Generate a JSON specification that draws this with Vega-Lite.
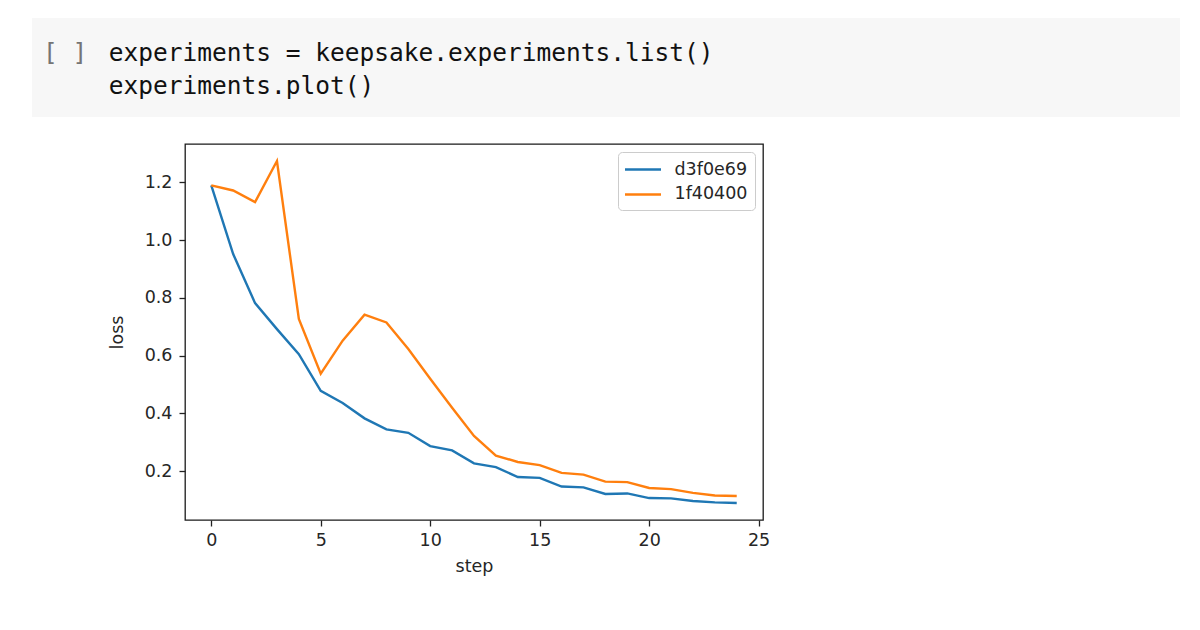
{
  "$schema": "https://vega.github.io/schema/vega-lite/v6.json",
  "background": "white",
  "padding": {"left": 32, "top": 18, "right": 20, "bottom": 10},
  "spacing": 26,
  "resolve": {"scale": {"color": "independent"}, "legend": {"color": "independent"}},
  "config": {
    "font": "DejaVu Sans",
    "axis": {
      "grid": false,
      "domain": false,
      "tickSize": 6,
      "tickWidth": 1.3,
      "tickColor": "#222222",
      "labelFont": "DejaVu Sans",
      "labelFontSize": 17.5,
      "labelColor": "#262626",
      "labelFlush": false,
      "titleFont": "DejaVu Sans",
      "titleFontSize": 17.5,
      "titleFontWeight": "normal",
      "titleColor": "#262626"
    }
  },
  "vconcat": [
    {
      "width": 1148,
      "height": 99,
      "view": {"fill": "#f7f7f7", "stroke": null},
      "data": {
        "values": [
          {"line": 1, "part": "prompt", "text": "[ ]"},
          {"line": 1, "part": "code", "text": "experiments = keepsake.experiments.list()"},
          {"line": 2, "part": "code", "text": "experiments.plot()"}
        ]
      },
      "mark": {"type": "text", "font": "DejaVu Sans Mono", "fontSize": 24.5, "align": "left", "baseline": "alphabetic"},
      "encoding": {
        "x": {"field": "part", "type": "nominal", "axis": null, "scale": {"type": "point", "domain": ["prompt", "code"], "range": [11, 76.8], "padding": 0}},
        "y": {"field": "line", "type": "ordinal", "axis": null, "scale": {"type": "point", "domain": [1, 2], "range": [42.5, 75.5], "padding": 0}},
        "text": {"field": "text"},
        "color": {"field": "part", "type": "nominal", "legend": null, "scale": {"domain": ["prompt", "code"], "range": ["#757575", "#111111"]}}
      }
    },
    {
      "spacing": 20,
      "resolve": {"scale": {"color": "independent"}, "legend": {"color": "independent"}},
      "hconcat": [
        {
          "width": 55,
          "height": 20,
          "view": {"stroke": null},
          "data": {"values": []},
          "mark": "point",
          "encoding": {}
        },
        {
          "width": 578,
          "height": 376,
          "view": {"stroke": "#1a1a1a", "strokeWidth": 1.3},
          "data": {
            "values": [
              {"step": 0, "loss": 1.19, "series": "d3f0e69"},
              {"step": 1, "loss": 0.952, "series": "d3f0e69"},
              {"step": 2, "loss": 0.782, "series": "d3f0e69"},
              {"step": 3, "loss": 0.692, "series": "d3f0e69"},
              {"step": 4, "loss": 0.605, "series": "d3f0e69"},
              {"step": 5, "loss": 0.478, "series": "d3f0e69"},
              {"step": 6, "loss": 0.436, "series": "d3f0e69"},
              {"step": 7, "loss": 0.383, "series": "d3f0e69"},
              {"step": 8, "loss": 0.345, "series": "d3f0e69"},
              {"step": 9, "loss": 0.333, "series": "d3f0e69"},
              {"step": 10, "loss": 0.287, "series": "d3f0e69"},
              {"step": 11, "loss": 0.272, "series": "d3f0e69"},
              {"step": 12, "loss": 0.227, "series": "d3f0e69"},
              {"step": 13, "loss": 0.214, "series": "d3f0e69"},
              {"step": 14, "loss": 0.18, "series": "d3f0e69"},
              {"step": 15, "loss": 0.177, "series": "d3f0e69"},
              {"step": 16, "loss": 0.147, "series": "d3f0e69"},
              {"step": 17, "loss": 0.144, "series": "d3f0e69"},
              {"step": 18, "loss": 0.121, "series": "d3f0e69"},
              {"step": 19, "loss": 0.123, "series": "d3f0e69"},
              {"step": 20, "loss": 0.107, "series": "d3f0e69"},
              {"step": 21, "loss": 0.106, "series": "d3f0e69"},
              {"step": 22, "loss": 0.097, "series": "d3f0e69"},
              {"step": 23, "loss": 0.092, "series": "d3f0e69"},
              {"step": 24, "loss": 0.09, "series": "d3f0e69"},
              {"step": 0, "loss": 1.19, "series": "1f40400"},
              {"step": 1, "loss": 1.172, "series": "1f40400"},
              {"step": 2, "loss": 1.132, "series": "1f40400"},
              {"step": 3, "loss": 1.274, "series": "1f40400"},
              {"step": 4, "loss": 0.727, "series": "1f40400"},
              {"step": 5, "loss": 0.538, "series": "1f40400"},
              {"step": 6, "loss": 0.652, "series": "1f40400"},
              {"step": 7, "loss": 0.742, "series": "1f40400"},
              {"step": 8, "loss": 0.715, "series": "1f40400"},
              {"step": 9, "loss": 0.623, "series": "1f40400"},
              {"step": 10, "loss": 0.52, "series": "1f40400"},
              {"step": 11, "loss": 0.42, "series": "1f40400"},
              {"step": 12, "loss": 0.322, "series": "1f40400"},
              {"step": 13, "loss": 0.254, "series": "1f40400"},
              {"step": 14, "loss": 0.232, "series": "1f40400"},
              {"step": 15, "loss": 0.221, "series": "1f40400"},
              {"step": 16, "loss": 0.194, "series": "1f40400"},
              {"step": 17, "loss": 0.188, "series": "1f40400"},
              {"step": 18, "loss": 0.164, "series": "1f40400"},
              {"step": 19, "loss": 0.162, "series": "1f40400"},
              {"step": 20, "loss": 0.142, "series": "1f40400"},
              {"step": 21, "loss": 0.138, "series": "1f40400"},
              {"step": 22, "loss": 0.125, "series": "1f40400"},
              {"step": 23, "loss": 0.116, "series": "1f40400"},
              {"step": 24, "loss": 0.114, "series": "1f40400"}
            ]
          },
          "mark": {"type": "line", "strokeWidth": 2.4, "clip": true},
          "encoding": {
            "x": {
              "field": "step",
              "type": "quantitative",
              "scale": {"domain": [-1.2, 25.2], "nice": false, "zero": false},
              "axis": {"values": [0, 5, 10, 15, 20, 25], "title": "step", "labelPadding": 5, "titlePadding": 9}
            },
            "y": {
              "field": "loss",
              "type": "quantitative",
              "scale": {"domain": [0.031, 1.333], "nice": false, "zero": false},
              "axis": {"values": [0.2, 0.4, 0.6, 0.8, 1.0, 1.2], "format": ".1f", "title": "loss", "labelPadding": 7, "titlePadding": 18}
            },
            "color": {
              "field": "series",
              "type": "nominal",
              "sort": null,
              "scale": {"domain": ["d3f0e69", "1f40400"], "range": ["#1f77b4", "#ff7f0e"]},
              "legend": {
                "title": null,
                "orient": "top-right",
                "offset": 8,
                "padding": 7,
                "strokeColor": "#cccccc",
                "fillColor": "rgba(255,255,255,0.8)",
                "cornerRadius": 4,
                "symbolType": "M-2,0H2",
                "symbolSize": 324,
                "symbolStrokeWidth": 2.5,
                "symbolOffset": 7.5,
                "labelOffset": 21,
                "labelFont": "DejaVu Sans",
                "labelFontSize": 17.5,
                "labelColor": "#262626",
                "rowPadding": 5.9
              }
            }
          }
        }
      ]
    }
  ]
}
